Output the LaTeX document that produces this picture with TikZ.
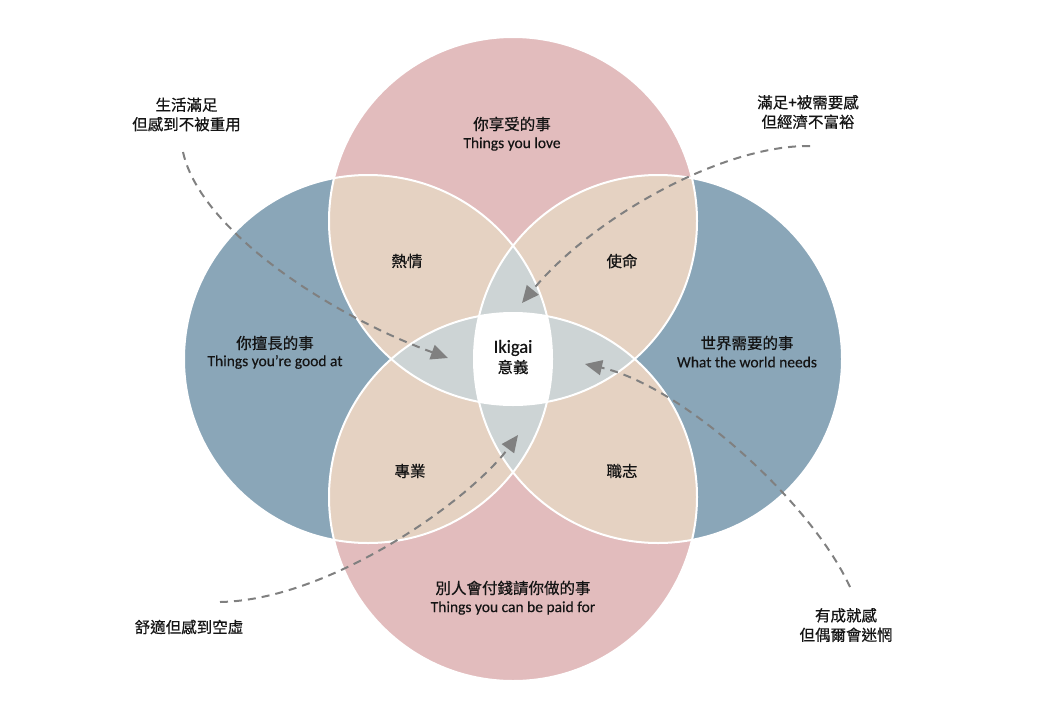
\documentclass[tikz,border=0pt]{standalone}
\usepackage{fontspec}
\setmainfont{Carlito}[FakeBold=0.3]
\newfontfamily\cjk{Noto Sans CJK TC}[FakeBold=0.6]
\usetikzlibrary{arrows.meta}
\definecolor{pinkc}{RGB}{226,188,189}
\definecolor{bluec}{RGB}{138,166,184}
\definecolor{peachc}{RGB}{229,210,194}
\definecolor{grayc}{RGB}{205,212,213}
\definecolor{arrowc}{RGB}{128,128,128}
\definecolor{textc}{RGB}{20,20,20}
\def\ikR{184pt}
\begin{document}
\begin{tikzpicture}[x=1pt,y=-1pt,
  zh/.style={font=\cjk\fontsize{15.5}{19.5}\selectfont, text=textc, inner sep=0pt, align=center},
  en/.style={font=\fontsize{15.5}{19}\selectfont, text=textc, inner sep=0pt},
  outline/.style={draw=white, line width=2pt},
  pathway/.style={draw=arrowc, line width=2pt, dash pattern=on 8pt off 6pt, -{Triangle[length=17pt,width=15pt]}}
]
\useasboundingbox (0,0) rectangle (1040,720);
\coordinate (T) at (513,221);
\coordinate (B) at (513,497);
\coordinate (L) at (368,359);
\coordinate (R) at (658,359);
% base circles
\fill[pinkc] (T) circle[radius=\ikR];
\fill[pinkc] (B) circle[radius=\ikR];
\fill[bluec] (L) circle[radius=\ikR];
\fill[bluec] (R) circle[radius=\ikR];
% pairwise
\begin{scope}
  \clip (T) circle[radius=\ikR];
  \fill[peachc] (L) circle[radius=\ikR];
  \fill[peachc] (R) circle[radius=\ikR];
\end{scope}
\begin{scope}
  \clip (B) circle[radius=\ikR];
  \fill[peachc] (L) circle[radius=\ikR];
  \fill[peachc] (R) circle[radius=\ikR];
\end{scope}
% triples
\begin{scope}
  \clip (L) circle[radius=\ikR];
  \clip (R) circle[radius=\ikR];
  \fill[grayc] (T) circle[radius=\ikR];
  \fill[grayc] (B) circle[radius=\ikR];
\end{scope}
\begin{scope}
  \clip (T) circle[radius=\ikR];
  \clip (B) circle[radius=\ikR];
  \fill[grayc] (L) circle[radius=\ikR];
  \fill[grayc] (R) circle[radius=\ikR];
\end{scope}
% all four
\begin{scope}
  \clip (T) circle[radius=\ikR];
  \clip (B) circle[radius=\ikR];
  \clip (L) circle[radius=\ikR];
  \fill[white] (R) circle[radius=\ikR];
\end{scope}
% outlines
\draw[outline] (T) circle[radius=\ikR];
\draw[outline] (B) circle[radius=\ikR];
\draw[outline] (L) circle[radius=\ikR];
\draw[outline] (R) circle[radius=\ikR];

% texts
\node[zh] (loveZh) at (512,124) {你享受的事};
\node[en] (loveEn) at (512,144) {Things you love};
\node[zh] (goodZh) at (275,343) {你擅長的事};
\node[en] (goodEn) at (275,362) {Things you’re good at};
\node[zh] (needZh) at (747,343) {世界需要的事};
\node[en] (needEn) at (747,362) {What the world needs};
\node[zh] (paidZh) at (513,588) {別人會付錢請你做的事};
\node[en] (paidEn) at (513,608) {Things you can be paid for};
\node[en, font=\fontsize{18.5}{20}\selectfont] (ikigai) at (513,348) {Ikigai};
\node[zh] (yiyi) at (513,367) {意義};
\node[zh] (passion) at (407,261) {熱情};
\node[zh] (mission) at (622,261) {使命};
\node[zh] (profession) at (410,471) {專業};
\node[zh] (vocation) at (622,471) {職志};
\node[zh] (lab1) at (186.5,114.5) {生活滿足\\但感到不被重用};
\node[zh] (lab2) at (808,112) {滿足+被需要感\\但經濟不富裕};
\node[zh] (lab3) at (189,627) {舒適但感到空虛};
\node[zh] (lab4) at (846,625) {有成就感\\但偶爾會迷惘};

% dashed arrows
\coordinate (p1s) at (183,152);
\coordinate (p1e) at (448,358);
\coordinate (p2s) at (810,146);
\coordinate (p2e) at (522,303);
\coordinate (p3s) at (220,602);
\coordinate (p3e) at (518,435);
\coordinate (p4s) at (850,587);
\coordinate (p4e) at (585,364);
\draw[pathway] (p1s) .. controls (200,230) and (330,315) .. (p1e);
\draw[pathway] (p2s) .. controls (720,145) and (590,220) .. (p2e);
\draw[pathway] (p3s) .. controls (330,600) and (470,500) .. (p3e);
\draw[pathway] (p4s) .. controls (810,500) and (680,385) .. (p4e);
\end{tikzpicture}
\end{document}
